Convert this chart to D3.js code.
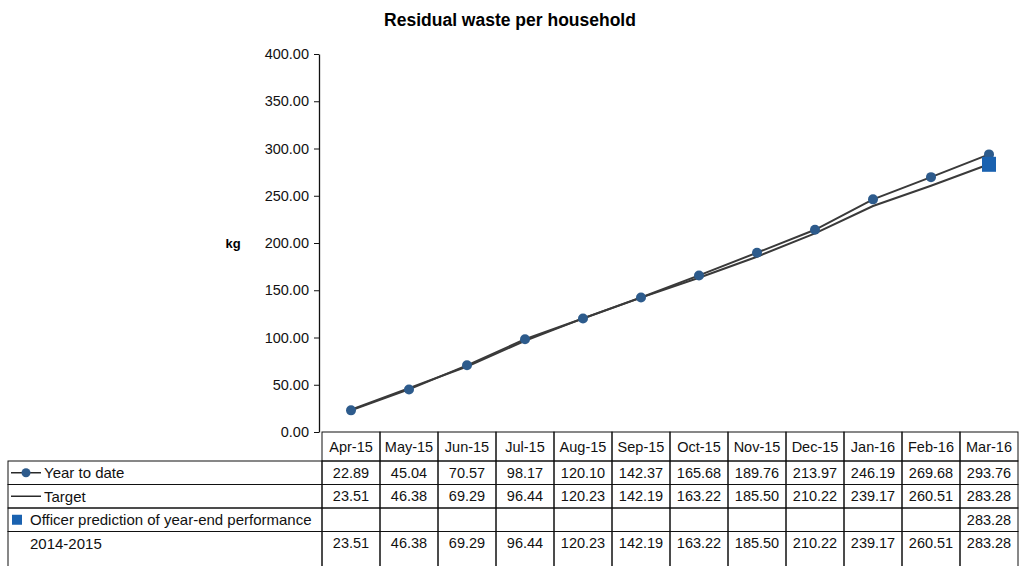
<!DOCTYPE html>
<html>
<head>
<meta charset="utf-8">
<script src="https://cdn.jsdelivr.net/npm/d3@7"></script>
<style>
  html, body { margin: 0; padding: 0; background: #fff; }
  svg { display: block; font-family: "Liberation Sans", Arial, sans-serif; }
</style>
</head>
<body>
<svg id="chart" width="1021" height="566"></svg>
<script>
// Monthly cumulative residual waste (kg per household), 2015/16
const months = ["Apr-15", "May-15", "Jun-15", "Jul-15", "Aug-15", "Sep-15",
                "Oct-15", "Nov-15", "Dec-15", "Jan-16", "Feb-16", "Mar-16"];
const yearToDate = [22.89, 45.04, 70.57, 98.17, 120.10, 142.37, 165.68, 189.76, 213.97, 246.19, 269.68, 293.76];
const target = [23.51, 46.38, 69.29, 96.44, 120.23, 142.19, 163.22, 185.50, 210.22, 239.17, 260.51, 283.28];
const prediction = [null, null, null, null, null, null, null, null, null, null, null, 283.28];
const previousYear = [23.51, 46.38, 69.29, 96.44, 120.23, 142.19, 163.22, 185.50, 210.22, 239.17, 260.51, 283.28];
const yTicks = [0, 50, 100, 150, 200, 250, 300, 350, 400];

const seriesRows = [
  { name: "Year to date", values: yearToDate, symbol: "lineDot" },
  { name: "Target", values: target, symbol: "line" },
  { name: "Officer prediction of year-end performance", values: prediction, symbol: "square" },
  { name: "2014-2015", values: previousYear, symbol: "none" }
];

const svg = d3.select("#chart");
const fmt = d3.format(".2f");

const plotLeft = 322, plotRight = 1018, plotTop = 54, plotBottom = 432;
const axisX = 319;
const tableLeft = 8;
const headerH = 29, rowH = 23.5;

const x = d3.scaleBand().domain(months).range([plotLeft, plotRight]);
const y = d3.scaleLinear().domain([0, 400]).range([plotBottom, plotTop]);
const cx = m => x(m) + x.bandwidth() / 2;

// Title and unit label
svg.append("text")
  .attr("x", 510).attr("y", 26)
  .attr("text-anchor", "middle")
  .attr("font-size", 17.5).attr("font-weight", "bold")
  .text("Residual waste per household");

svg.append("text")
  .attr("x", 233).attr("y", 248)
  .attr("text-anchor", "middle")
  .attr("font-size", 13).attr("font-weight", "bold")
  .text("kg");

// Value axis
const yAxis = d3.axisLeft(y)
  .tickValues(yTicks)
  .tickFormat(fmt)
  .tickSize(5)
  .tickSizeOuter(0)
  .tickPadding(5);

const gy = svg.append("g")
  .attr("transform", `translate(${axisX},0)`)
  .call(yAxis);
gy.selectAll("text").attr("font-size", 14.5).attr("fill", "#111");
gy.select(".domain").attr("stroke", "#111").attr("stroke-width", 1.3);
gy.selectAll(".tick line").attr("stroke", "#111");

// Lines
const lineGen = d3.line()
  .defined(d => d.v != null)
  .x(d => cx(d.m))
  .y(d => y(d.v));

const toPts = arr => months.map((m, i) => ({ m, v: arr[i] }));

svg.append("path")
  .datum(toPts(target))
  .attr("fill", "none")
  .attr("stroke", "#3a3a3a")
  .attr("stroke-width", 2)
  .attr("d", lineGen);

svg.append("path")
  .datum(toPts(yearToDate))
  .attr("fill", "none")
  .attr("stroke", "#3a3a3a")
  .attr("stroke-width", 2)
  .attr("d", lineGen);

svg.append("g").selectAll("circle")
  .data(toPts(yearToDate))
  .join("circle")
  .attr("cx", d => cx(d.m))
  .attr("cy", d => y(d.v))
  .attr("r", 5)
  .attr("fill", "#2d5b8c");

// Officer prediction marker
const sqW = 14, sqH = 15;
svg.append("g").selectAll("rect")
  .data(toPts(prediction).filter(d => d.v != null))
  .join("rect")
  .attr("x", d => cx(d.m) - sqW / 2)
  .attr("y", d => y(d.v) - sqH / 2)
  .attr("width", sqW).attr("height", sqH)
  .attr("fill", "#1a62b0");

// Data table beneath the chart
const table = svg.append("g").attr("stroke", "#111").attr("stroke-width", 1);

// header row
const headerTop = plotBottom;
months.forEach(m => {
  table.append("rect")
    .attr("x", x(m)).attr("y", headerTop)
    .attr("width", x.bandwidth()).attr("height", headerH)
    .attr("fill", "none");
});
svg.append("g").selectAll("text")
  .data(months)
  .join("text")
  .attr("x", cx)
  .attr("y", headerTop + headerH / 2)
  .attr("dy", "0.35em")
  .attr("text-anchor", "middle")
  .attr("font-size", 14.5)
  .attr("fill", "#111")
  .text(d => d);

// series rows (the last one runs past the bottom edge)
seriesRows.forEach((row, r) => {
  const top = headerTop + headerH + r * rowH;
  const mid = top + rowH / 2;
  const h = r === seriesRows.length - 1 ? rowH + 20 : rowH;
  table.append("rect")
    .attr("x", tableLeft).attr("y", top)
    .attr("width", plotLeft - tableLeft).attr("height", h)
    .attr("fill", "none");
  months.forEach(m => {
    table.append("rect")
      .attr("x", x(m)).attr("y", top)
      .attr("width", x.bandwidth()).attr("height", h)
      .attr("fill", "none");
  });

  const g = svg.append("g");
  let textX = 30;
  if (row.symbol === "lineDot" || row.symbol === "line") {
    g.append("line")
      .attr("x1", tableLeft + 3).attr("x2", tableLeft + 33)
      .attr("y1", mid).attr("y2", mid)
      .attr("stroke", "#2a2a2a").attr("stroke-width", 1.5);
    if (row.symbol === "lineDot") {
      g.append("circle")
        .attr("cx", tableLeft + 18).attr("cy", mid).attr("r", 4.5)
        .attr("fill", "#2d5b8c");
    }
    textX = 44;
  } else if (row.symbol === "square") {
    g.append("rect")
      .attr("x", 12).attr("y", mid - 5)
      .attr("width", 10).attr("height", 10)
      .attr("fill", "#1a62b0");
  }
  g.append("text")
    .attr("x", textX).attr("y", mid)
    .attr("dy", "0.35em")
    .attr("font-size", 15)
    .attr("fill", "#111")
    .text(row.name);

  g.selectAll("text.val")
    .data(months.map((m, i) => ({ m, v: row.values[i] })).filter(d => d.v != null))
    .join("text")
    .attr("class", "val")
    .attr("x", d => cx(d.m))
    .attr("y", mid)
    .attr("dy", "0.35em")
    .attr("text-anchor", "middle")
    .attr("font-size", 14.5)
    .attr("fill", "#111")
    .text(d => fmt(d.v));
});
</script>
</body>
</html>
